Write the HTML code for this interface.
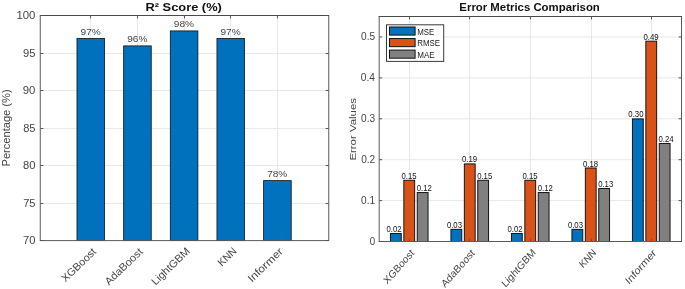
<!DOCTYPE html>
<html><head><meta charset="utf-8"><title>chart</title>
<style>
html,body{margin:0;padding:0;background:#fff;}
body{width:685px;height:289px;overflow:hidden;}
svg{display:block;font-family:"Liberation Sans",sans-serif;will-change:transform;opacity:0.999;}
</style></head><body>
<svg width="685" height="289" viewBox="0 0 685 289">
<rect x="0" y="0" width="685" height="289" fill="#fff"/>
<line x1="40.50" y1="203.50" x2="328.50" y2="203.50" stroke="#e8e8e8" stroke-width="1"/>
<line x1="40.50" y1="165.50" x2="328.50" y2="165.50" stroke="#e8e8e8" stroke-width="1"/>
<line x1="40.50" y1="128.50" x2="328.50" y2="128.50" stroke="#e8e8e8" stroke-width="1"/>
<line x1="40.50" y1="90.50" x2="328.50" y2="90.50" stroke="#e8e8e8" stroke-width="1"/>
<line x1="40.50" y1="53.50" x2="328.50" y2="53.50" stroke="#e8e8e8" stroke-width="1"/>
<line x1="90.50" y1="15.50" x2="90.50" y2="240.50" stroke="#e8e8e8" stroke-width="1"/>
<line x1="137.50" y1="15.50" x2="137.50" y2="240.50" stroke="#e8e8e8" stroke-width="1"/>
<line x1="184.50" y1="15.50" x2="184.50" y2="240.50" stroke="#e8e8e8" stroke-width="1"/>
<line x1="230.50" y1="15.50" x2="230.50" y2="240.50" stroke="#e8e8e8" stroke-width="1"/>
<line x1="277.50" y1="15.50" x2="277.50" y2="240.50" stroke="#e8e8e8" stroke-width="1"/>
<rect x="76.98" y="38.41" width="27.60" height="202.09" fill="#0072BD" stroke="#111" stroke-width="0.8"/>
<rect x="123.64" y="45.89" width="27.60" height="194.61" fill="#0072BD" stroke="#111" stroke-width="0.8"/>
<rect x="170.30" y="30.92" width="27.60" height="209.58" fill="#0072BD" stroke="#111" stroke-width="0.8"/>
<rect x="216.96" y="38.41" width="27.60" height="202.09" fill="#0072BD" stroke="#111" stroke-width="0.8"/>
<rect x="263.62" y="180.62" width="27.60" height="59.88" fill="#0072BD" stroke="#111" stroke-width="0.8"/>
<line x1="40.25" y1="15.00" x2="40.25" y2="241.00" stroke="#5a5a5a" stroke-width="1"/>
<line x1="328.75" y1="15.00" x2="328.75" y2="241.00" stroke="#5a5a5a" stroke-width="1"/>
<line x1="40.00" y1="15.50" x2="329.00" y2="15.50" stroke="#4a4a4a" stroke-width="1"/>
<line x1="40.00" y1="240.60" x2="329.00" y2="240.60" stroke="#5a5a5a" stroke-width="1"/>
<line x1="40.50" y1="240.50" x2="43.40" y2="240.50" stroke="#555555" stroke-width="1"/>
<line x1="328.50" y1="240.50" x2="325.60" y2="240.50" stroke="#555555" stroke-width="1"/>
<text transform="translate(22.97 244.00) scale(1.0976 1)" font-size="10.2" fill="#444444">70</text>
<line x1="40.50" y1="203.50" x2="43.40" y2="203.50" stroke="#555555" stroke-width="1"/>
<line x1="328.50" y1="203.50" x2="325.60" y2="203.50" stroke="#555555" stroke-width="1"/>
<text transform="translate(23.18 206.57) scale(1.0833 1)" font-size="10.2" fill="#444444">75</text>
<line x1="40.50" y1="165.50" x2="43.40" y2="165.50" stroke="#555555" stroke-width="1"/>
<line x1="328.50" y1="165.50" x2="325.60" y2="165.50" stroke="#555555" stroke-width="1"/>
<text transform="translate(22.92 169.15) scale(1.1014 1)" font-size="10.2" fill="#444444">80</text>
<line x1="40.50" y1="128.50" x2="43.40" y2="128.50" stroke="#555555" stroke-width="1"/>
<line x1="328.50" y1="128.50" x2="325.60" y2="128.50" stroke="#555555" stroke-width="1"/>
<text transform="translate(23.13 131.72) scale(1.0874 1)" font-size="10.2" fill="#444444">85</text>
<line x1="40.50" y1="90.50" x2="43.40" y2="90.50" stroke="#555555" stroke-width="1"/>
<line x1="328.50" y1="90.50" x2="325.60" y2="90.50" stroke="#555555" stroke-width="1"/>
<text transform="translate(22.81 94.30) scale(1.1117 1)" font-size="10.2" fill="#444444">90</text>
<line x1="40.50" y1="53.50" x2="43.40" y2="53.50" stroke="#555555" stroke-width="1"/>
<line x1="328.50" y1="53.50" x2="325.60" y2="53.50" stroke="#555555" stroke-width="1"/>
<text transform="translate(23.02 56.88) scale(1.0976 1)" font-size="10.2" fill="#444444">95</text>
<line x1="40.50" y1="15.50" x2="43.40" y2="15.50" stroke="#555555" stroke-width="1"/>
<line x1="328.50" y1="15.50" x2="325.60" y2="15.50" stroke="#555555" stroke-width="1"/>
<text transform="translate(16.45 19.45) scale(1.1158 1)" font-size="10.2" fill="#444444">100</text>
<line x1="90.50" y1="240.50" x2="90.50" y2="237.60" stroke="#555555" stroke-width="1"/>
<line x1="90.50" y1="15.50" x2="90.50" y2="18.40" stroke="#555555" stroke-width="1"/>
<line x1="137.50" y1="240.50" x2="137.50" y2="237.60" stroke="#555555" stroke-width="1"/>
<line x1="137.50" y1="15.50" x2="137.50" y2="18.40" stroke="#555555" stroke-width="1"/>
<line x1="184.50" y1="240.50" x2="184.50" y2="237.60" stroke="#555555" stroke-width="1"/>
<line x1="184.50" y1="15.50" x2="184.50" y2="18.40" stroke="#555555" stroke-width="1"/>
<line x1="230.50" y1="240.50" x2="230.50" y2="237.60" stroke="#555555" stroke-width="1"/>
<line x1="230.50" y1="15.50" x2="230.50" y2="18.40" stroke="#555555" stroke-width="1"/>
<line x1="277.50" y1="240.50" x2="277.50" y2="237.60" stroke="#555555" stroke-width="1"/>
<line x1="277.50" y1="15.50" x2="277.50" y2="18.40" stroke="#555555" stroke-width="1"/>
<text transform="translate(80.54 34.80) scale(1.0575 1)" font-size="9.54" fill="#444444">97%</text>
<text transform="translate(127.20 42.29) scale(1.0575 1)" font-size="9.54" fill="#444444">96%</text>
<text transform="translate(173.86 27.32) scale(1.0575 1)" font-size="9.54" fill="#444444">98%</text>
<text transform="translate(220.52 34.80) scale(1.0575 1)" font-size="9.54" fill="#444444">97%</text>
<text transform="translate(267.23 177.02) scale(1.0502 1)" font-size="9.54" fill="#444444">78%</text>
<text transform="translate(65.55 282.56) rotate(-44) scale(1.0253 1)" font-size="10.6" fill="#444444">XGBoost</text>
<text transform="translate(108.92 285.74) rotate(-44) scale(1.0456 1)" font-size="10.6" fill="#444444">AdaBoost</text>
<text transform="translate(155.53 285.78) rotate(-44) scale(1.0386 1)" font-size="10.6" fill="#444444">LightGBM</text>
<text transform="translate(221.79 266.86) rotate(-44) scale(0.9672 1)" font-size="10.6" fill="#444444">KNN</text>
<text transform="translate(251.91 282.83) rotate(-44) scale(1.1138 1)" font-size="10.6" fill="#444444">Informer</text>
<text transform="translate(145.46 10.90) scale(1.1245 1)" font-size="11.44" font-weight="bold" fill="#111">R² Score (%)</text>
<text transform="translate(9.90 166.49) rotate(-90) scale(1.0481 1)" font-size="10.6" fill="#444444">Percentage (%)</text>
<line x1="379.20" y1="200.59" x2="681.50" y2="200.59" stroke="#e8e8e8" stroke-width="1"/>
<line x1="379.20" y1="159.68" x2="681.50" y2="159.68" stroke="#e8e8e8" stroke-width="1"/>
<line x1="379.20" y1="118.77" x2="681.50" y2="118.77" stroke="#e8e8e8" stroke-width="1"/>
<line x1="379.20" y1="77.86" x2="681.50" y2="77.86" stroke="#e8e8e8" stroke-width="1"/>
<line x1="379.20" y1="36.95" x2="681.50" y2="36.95" stroke="#e8e8e8" stroke-width="1"/>
<line x1="409.50" y1="16.50" x2="409.50" y2="241.50" stroke="#e8e8e8" stroke-width="1"/>
<line x1="469.50" y1="16.50" x2="469.50" y2="241.50" stroke="#e8e8e8" stroke-width="1"/>
<line x1="530.50" y1="16.50" x2="530.50" y2="241.50" stroke="#e8e8e8" stroke-width="1"/>
<line x1="591.50" y1="16.50" x2="591.50" y2="241.50" stroke="#e8e8e8" stroke-width="1"/>
<line x1="651.50" y1="16.50" x2="651.50" y2="241.50" stroke="#e8e8e8" stroke-width="1"/>
<rect x="390.45" y="233.47" width="10.80" height="8.03" fill="#0072BD" stroke="#141414" stroke-width="1.0"/>
<rect x="403.85" y="180.29" width="10.80" height="61.21" fill="#D95319" stroke="#141414" stroke-width="1.0"/>
<rect x="417.25" y="192.56" width="10.80" height="48.94" fill="#808080" stroke="#141414" stroke-width="1.0"/>
<rect x="450.95" y="229.38" width="10.80" height="12.12" fill="#0072BD" stroke="#141414" stroke-width="1.0"/>
<rect x="464.35" y="163.92" width="10.80" height="77.58" fill="#D95319" stroke="#141414" stroke-width="1.0"/>
<rect x="477.75" y="180.29" width="10.80" height="61.21" fill="#808080" stroke="#141414" stroke-width="1.0"/>
<rect x="511.45" y="233.47" width="10.80" height="8.03" fill="#0072BD" stroke="#141414" stroke-width="1.0"/>
<rect x="524.85" y="180.29" width="10.80" height="61.21" fill="#D95319" stroke="#141414" stroke-width="1.0"/>
<rect x="538.25" y="192.56" width="10.80" height="48.94" fill="#808080" stroke="#141414" stroke-width="1.0"/>
<rect x="571.95" y="229.38" width="10.80" height="12.12" fill="#0072BD" stroke="#141414" stroke-width="1.0"/>
<rect x="585.35" y="168.01" width="10.80" height="73.49" fill="#D95319" stroke="#141414" stroke-width="1.0"/>
<rect x="598.75" y="188.47" width="10.80" height="53.03" fill="#808080" stroke="#141414" stroke-width="1.0"/>
<rect x="632.45" y="118.92" width="10.80" height="122.58" fill="#0072BD" stroke="#141414" stroke-width="1.0"/>
<rect x="645.85" y="41.20" width="10.80" height="200.30" fill="#D95319" stroke="#141414" stroke-width="1.0"/>
<rect x="659.25" y="143.47" width="10.80" height="98.03" fill="#808080" stroke="#141414" stroke-width="1.0"/>
<line x1="379.20" y1="16.00" x2="379.20" y2="242.00" stroke="#5a5a5a" stroke-width="1"/>
<line x1="681.50" y1="16.00" x2="681.50" y2="242.00" stroke="#5a5a5a" stroke-width="1"/>
<line x1="378.70" y1="16.50" x2="682.00" y2="16.50" stroke="#4a4a4a" stroke-width="1"/>
<line x1="378.70" y1="241.50" x2="682.00" y2="241.50" stroke="#5a5a5a" stroke-width="1"/>
<line x1="379.20" y1="241.50" x2="382.10" y2="241.50" stroke="#555555" stroke-width="1"/>
<line x1="681.50" y1="241.50" x2="678.60" y2="241.50" stroke="#555555" stroke-width="1"/>
<text transform="translate(369.67 245.00) scale(0.9489 1)" font-size="10.2" fill="#444444">0</text>
<line x1="379.20" y1="200.59" x2="382.10" y2="200.59" stroke="#555555" stroke-width="1"/>
<line x1="681.50" y1="200.59" x2="678.60" y2="200.59" stroke="#555555" stroke-width="1"/>
<text transform="translate(361.09 204.09) scale(0.9918 1)" font-size="10.2" fill="#444444">0.1</text>
<line x1="379.20" y1="159.68" x2="382.10" y2="159.68" stroke="#555555" stroke-width="1"/>
<line x1="681.50" y1="159.68" x2="678.60" y2="159.68" stroke="#555555" stroke-width="1"/>
<text transform="translate(361.19 163.18) scale(0.9887 1)" font-size="10.2" fill="#444444">0.2</text>
<line x1="379.20" y1="118.77" x2="382.10" y2="118.77" stroke="#555555" stroke-width="1"/>
<line x1="681.50" y1="118.77" x2="678.60" y2="118.77" stroke="#555555" stroke-width="1"/>
<text transform="translate(361.00 122.27) scale(0.9949 1)" font-size="10.2" fill="#444444">0.3</text>
<line x1="379.20" y1="77.86" x2="382.10" y2="77.86" stroke="#555555" stroke-width="1"/>
<line x1="681.50" y1="77.86" x2="678.60" y2="77.86" stroke="#555555" stroke-width="1"/>
<text transform="translate(360.77 81.36) scale(1.0007 1)" font-size="10.2" fill="#444444">0.4</text>
<line x1="379.20" y1="36.95" x2="382.10" y2="36.95" stroke="#555555" stroke-width="1"/>
<line x1="681.50" y1="36.95" x2="678.60" y2="36.95" stroke="#555555" stroke-width="1"/>
<text transform="translate(361.05 40.45) scale(0.9915 1)" font-size="10.2" fill="#444444">0.5</text>
<line x1="409.50" y1="241.50" x2="409.50" y2="238.60" stroke="#555555" stroke-width="1"/>
<line x1="409.50" y1="16.50" x2="409.50" y2="19.40" stroke="#555555" stroke-width="1"/>
<line x1="469.50" y1="241.50" x2="469.50" y2="238.60" stroke="#555555" stroke-width="1"/>
<line x1="469.50" y1="16.50" x2="469.50" y2="19.40" stroke="#555555" stroke-width="1"/>
<line x1="530.50" y1="241.50" x2="530.50" y2="238.60" stroke="#555555" stroke-width="1"/>
<line x1="530.50" y1="16.50" x2="530.50" y2="19.40" stroke="#555555" stroke-width="1"/>
<line x1="591.50" y1="241.50" x2="591.50" y2="238.60" stroke="#555555" stroke-width="1"/>
<line x1="591.50" y1="16.50" x2="591.50" y2="19.40" stroke="#555555" stroke-width="1"/>
<line x1="651.50" y1="241.50" x2="651.50" y2="238.60" stroke="#555555" stroke-width="1"/>
<line x1="651.50" y1="16.50" x2="651.50" y2="19.40" stroke="#555555" stroke-width="1"/>
<text transform="translate(386.45 232.02) scale(0.9115 1)" font-size="8.48" fill="#111">0.02</text>
<text transform="translate(401.52 178.84) scale(0.9132 1)" font-size="8.48" fill="#111">0.15</text>
<text transform="translate(416.70 191.11) scale(0.9115 1)" font-size="8.48" fill="#111">0.12</text>
<text transform="translate(446.88 227.93) scale(0.9154 1)" font-size="8.48" fill="#111">0.03</text>
<text transform="translate(461.96 162.47) scale(0.9222 1)" font-size="8.48" fill="#111">0.19</text>
<text transform="translate(477.14 178.84) scale(0.9132 1)" font-size="8.48" fill="#111">0.15</text>
<text transform="translate(507.45 232.02) scale(0.9115 1)" font-size="8.48" fill="#111">0.02</text>
<text transform="translate(522.52 178.84) scale(0.9132 1)" font-size="8.48" fill="#111">0.15</text>
<text transform="translate(537.70 191.11) scale(0.9115 1)" font-size="8.48" fill="#111">0.12</text>
<text transform="translate(567.88 227.93) scale(0.9154 1)" font-size="8.48" fill="#111">0.03</text>
<text transform="translate(582.95 166.56) scale(0.9220 1)" font-size="8.48" fill="#111">0.18</text>
<text transform="translate(598.13 187.02) scale(0.9154 1)" font-size="8.48" fill="#111">0.13</text>
<text transform="translate(628.32 117.47) scale(0.9195 1)" font-size="8.48" fill="#111">0.30</text>
<text transform="translate(643.46 39.75) scale(0.9222 1)" font-size="8.48" fill="#111">0.49</text>
<text transform="translate(658.54 142.02) scale(0.9190 1)" font-size="8.48" fill="#111">0.24</text>
<text transform="translate(414.75 253.70) scale(0.885 1) rotate(-45) translate(-43.84 0) scale(1.0353 1)" font-size="10.6" fill="#444444">XGBoost</text>
<text transform="translate(475.25 253.70) scale(0.885 1) rotate(-45) translate(-48.46 0) scale(1.0559 1)" font-size="10.6" fill="#444444">AdaBoost</text>
<text transform="translate(535.75 253.70) scale(0.885 1) rotate(-45) translate(-48.53 0) scale(1.0488 1)" font-size="10.6" fill="#444444">LightGBM</text>
<text transform="translate(596.25 253.70) scale(0.885 1) rotate(-45) translate(-21.02 0) scale(0.9767 1)" font-size="10.6" fill="#444444">KNN</text>
<text transform="translate(656.75 253.70) scale(0.885 1) rotate(-45) translate(-44.23 0) scale(1.1247 1)" font-size="10.6" fill="#444444">Informer</text>
<text transform="translate(459.36 11.00) scale(0.9965 1)" font-size="11.44" font-weight="bold" fill="#111">Error Metrics Comparison</text>
<text transform="translate(356.00 160.61) rotate(-90) scale(1.1667 1)" font-size="9.8" fill="#444444">Error Values</text>
<rect x="386.50" y="24.80" width="57.20" height="36.60" fill="#fff" stroke="#3a3a3a" stroke-width="1"/>
<rect x="389.50" y="27.00" width="25.60" height="8.10" fill="#0072BD" stroke="#111" stroke-width="1"/>
<text transform="translate(417.27 34.50) scale(0.8291 1)" font-size="9.54" fill="#222">MSE</text>
<rect x="389.50" y="38.55" width="25.60" height="8.10" fill="#D95319" stroke="#111" stroke-width="1"/>
<text transform="translate(417.27 46.05) scale(0.8274 1)" font-size="9.54" fill="#222">RMSE</text>
<rect x="389.50" y="50.10" width="25.60" height="8.10" fill="#808080" stroke="#111" stroke-width="1"/>
<text transform="translate(417.25 57.60) scale(0.8480 1)" font-size="9.54" fill="#222">MAE</text>
</svg>
</body></html>
